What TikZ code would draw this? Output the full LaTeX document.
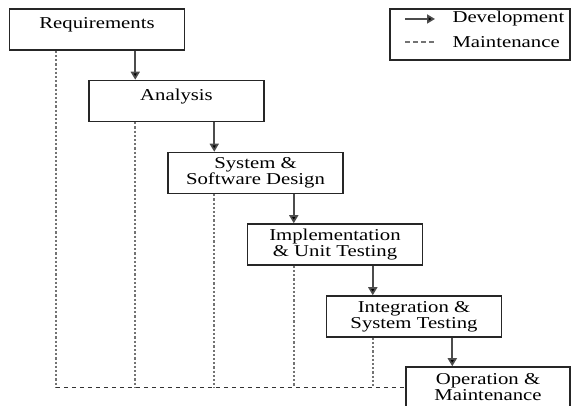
\documentclass[tikz,border=0pt]{standalone}
\usepackage{fontspec}
\setmainfont[FakeStretch=1.25]{Liberation Serif}
\usetikzlibrary{arrows.meta}

\begin{document}
\begin{tikzpicture}[x=1pt, y=1pt, font=\fontsize{16.6}{16}\selectfont,
  phase/.style={draw=black!85, line width=1.5pt, fill=white, minimum width=175pt,
    minimum height=41pt, align=center, inner sep=2pt},
  onerow/.style={text depth=12pt},
  devel/.style={draw=black!70, line width=1.7pt, -{Triangle[width=9pt,length=8pt,fill=black]}},
  maint/.style={draw=black!55, line width=2.4pt, dash pattern=on 2.2pt off 2pt},
  maintline/.style={draw=black!80, line width=1.4pt, dash pattern=on 4.5pt off 3.5pt}]
\useasboundingbox (0,0) rectangle (572,406);
\node[phase, onerow] (req) at (97,376.5) {Requirements};
\node[phase, onerow] (ana) at (176.5,305) {Analysis};
\node[phase] (sys) at (255.5,233) {System \&\\Software Design};
\node[phase] (imp) at (335,161.5) {Implementation\\\& Unit Testing};
\node[phase] (int) at (414,89.5) {Integration \&\\System Testing};
\node[phase, minimum width=164pt] (op) at (488,18.5) {Operation \&\\Maintenance};
% where the arrows come in and the maintenance lines go out
\coordinate (reqin) at ([xshift=47pt]req.north west);
\coordinate (anain) at ([xshift=47pt]ana.north west);
\coordinate (sysin) at ([xshift=47pt]sys.north west);
\coordinate (impin) at ([xshift=47pt]imp.north west);
\coordinate (intin) at ([xshift=47pt]int.north west);
\coordinate (opin) at ([xshift=47pt]op.north west);
\draw[devel] (req.south -| anain) -- (anain);
\draw[devel] (ana.south -| sysin) -- (sysin);
\draw[devel] (sys.south -| impin) -- (impin);
\draw[devel] (imp.south -| intin) -- (intin);
\draw[devel] (int.south -| opin) -- (opin);
\draw[maint] (req.south -| reqin) -- (reqin |- op.west);
\draw[maint] (ana.south -| anain) -- (anain |- op.west);
\draw[maint] (sys.south -| sysin) -- (sysin |- op.west);
\draw[maint] (imp.south -| impin) -- (impin |- op.west);
\draw[maint] (int.south -| intin) -- (intin |- op.west);
\draw[maintline] (reqin |- op.west) -- (op.west);
% legend
\node[draw=black!85, line width=1.5pt, minimum width=180pt, minimum height=51pt] (legend) at (480,371.5) {};
\node[anchor=west] (devtext) at (449,387) {Development};
\node[anchor=west] (maintext) at (449,364) {Maintenance};
\coordinate (devstart) at (405,387);
\coordinate (devend) at (435,387);
\coordinate (maintstart) at (405,364);
\coordinate (maintend) at (435,364);
\draw[devel] (devstart) -- (devend);
\draw[maintline, draw=black!55] (maintstart) -- (maintend);
\end{tikzpicture}
\end{document}
